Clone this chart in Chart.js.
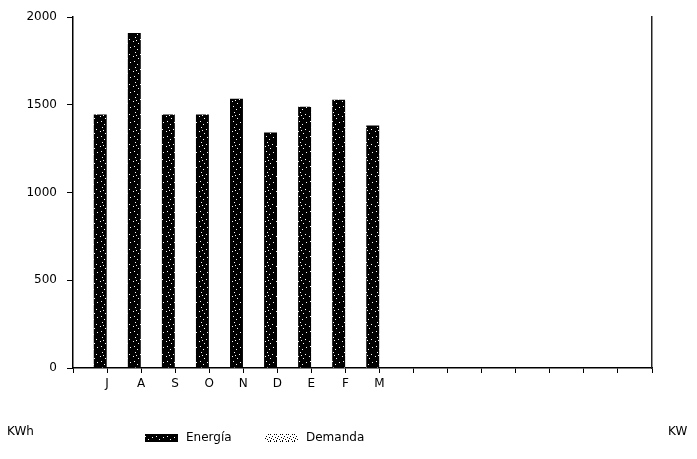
<!DOCTYPE html>
<html><head><meta charset="utf-8">
<script src="https://cdn.jsdelivr.net/npm/chart.js@4/dist/chart.umd.min.js"></script>
<style>html,body{margin:0;padding:0;background:#fff}#c{display:block}</style>
</head><body>
<canvas id="c" width="697" height="459"></canvas>
<script>
// ---- data ----
const months  = ['', 'J','A','S','O','N','D','E','F','M','','','','','','','',''];
const energia = [null, 1445, 1910, 1445, 1445, 1535, 1343, 1490, 1530, 1382, null, null, null, null, null, null, null, null];
const demanda = [null, 0, 0, 0, 0, 0, 0, 0, 0, 0, null, null, null, null, null, null, null, null];
const yTicks  = [0, 500, 1000, 1500, 2000];
const seriesNames = ['Energía', 'Demanda'];
const unitLeft = 'KWh', unitRight = 'KW';

function makePattern(bg, fg, pts, w, h) {
  const c = document.createElement('canvas'); c.width = w; c.height = h;
  const x = c.getContext('2d');
  x.fillStyle = bg; x.fillRect(0, 0, w, h);
  x.fillStyle = fg; pts.forEach(([a, b]) => x.fillRect(a, b, 1, 1));
  return x.createPattern(c, 'repeat');
}
const ctx = document.getElementById('c').getContext('2d');
const patE = makePattern('#000', '#fff', [[2,1],[5,4],[3,7],[8,9],[1,11],[6,13],[9,2],[4,10]], 11, 15);
const patD = makePattern('#fff', '#000', [[0,0],[2,2],[4,0],[1,4],[3,5],[5,3],[0,6]], 6, 7);

const FONT = 'DejaVu Sans';

const legendPlugin = {
  id: 'legendUnits',
  afterDraw(chart) {
    const c = chart.ctx;
    c.save();
    c.font = '12px "' + FONT + '"';
    c.fillStyle = '#000';
    c.textBaseline = 'middle';
    c.textAlign = 'left';
    c.fillText(unitLeft, 7, 432);
    c.fillText(unitRight, 668, 432);
    const items = [{x: 145, fill: patE, label: seriesNames[0]}, {x: 265, fill: patD, label: seriesNames[1]}];
    items.forEach(it => {
      c.fillStyle = it.fill;
      c.fillRect(it.x, 434, 33, 8);
      c.fillStyle = '#000';
      c.fillText(it.label, it.x + 41, 438);
    });
    c.restore();
  }
};

new Chart(ctx, {
  type: 'bar',
  data: {
    labels: months,
    datasets: [
      {label: seriesNames[0], data: energia, backgroundColor: patE, borderWidth: 0, yAxisID: 'y'},
      {label: seriesNames[1], data: demanda, backgroundColor: patD, borderWidth: 0, yAxisID: 'y'}
    ]
  },
  options: {
    responsive: false,
    animation: false,
    layout: {padding: {top: 15, left: 0, right: 0, bottom: 0}},
    datasets: {bar: {categoryPercentage: 0.8, barPercentage: 0.95}},
    plugins: {legend: {display: false}, tooltip: {enabled: false}},
    scales: {
      x: {
        type: 'category', offset: false,
        grid: {drawOnChartArea: false, drawTicks: true, tickLength: 5, color: '#000', offset: false},
        border: {display: true, color: '#000', width: 1.5},
        ticks: {autoSkip: false, maxRotation: 0, color: '#000', font: {family: FONT, size: 12}, padding: 4},
        afterFit(s) { s.height = 91; }
      },
      y: {
        position: 'left', min: 0, max: 2000,
        afterBuildTicks(s) { s.ticks = yTicks.map(v => ({value: v})); },
        ticks: {color: '#000', font: {family: FONT, size: 12}, padding: 10, callback: v => String(v)},
        grid: {drawOnChartArea: false, drawTicks: true, tickLength: 6, color: '#000'},
        border: {display: true, color: '#000', width: 1.5},
        afterFit(s) { s.width = 73; }
      },
      y2: {
        position: 'right', min: 0, max: 2000,
        ticks: {display: false},
        grid: {drawOnChartArea: false, drawTicks: false},
        border: {display: true, color: '#222', width: 1.5},
        afterFit(s) { s.width = 45; }
      }
    }
  },
  plugins: [legendPlugin]
});
</script>
</body></html>
